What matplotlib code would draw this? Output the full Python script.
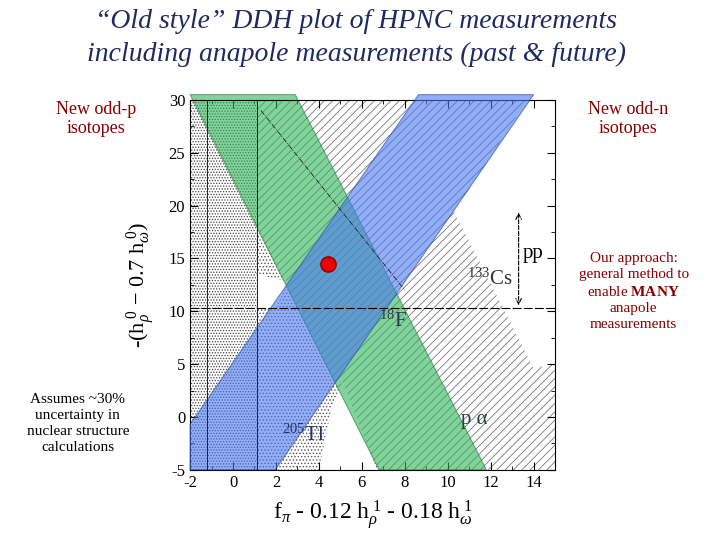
import matplotlib
matplotlib.use("Agg")
import matplotlib.pyplot as plt
from matplotlib.patches import Polygon
from matplotlib.ticker import MultipleLocator

plt.rcParams['font.family'] = ['Liberation Serif', 'DejaVu Serif']
plt.rcParams['mathtext.fontset'] = 'custom'
plt.rcParams['mathtext.rm'] = 'Liberation Serif'
plt.rcParams['mathtext.it'] = 'Liberation Serif:italic'
plt.rcParams['mathtext.bf'] = 'Liberation Serif:bold'
plt.rcParams['hatch.linewidth'] = 0.6

green_band = [(-2.0, 30.5), (2.9, 30.5), (11.8, -5.0), (6.8, -5.0)]
blue_band = [(-2.0, -5.0), (1.97, -5.0), (14.0, 30.5), (8.64, 30.5), (-2.0, -0.7)]
dense_left = [(-2.0, -5.0), (1.1, -5.0), (1.1, 30.0), (-2.0, 30.0)]
dense_diag = [(1.1, 18.0), (6.8, -5.0), (1.1, -5.0)]
white_upper_right = [(10.3, 19.4), (13.7, 30.0), (15.0, 30.0), (15.0, 5.0), (14.0, 4.6)]
white_bottom = [(4.0, -5.0), (6.7, -5.0), (5.1, 3.4), (4.6, 1.0)]
white_wedge = [(1.1, 10.3), (1.1, 13.5), (2.6, 12.8), (2.0, 10.3)]
red_point = (4.4, 14.5)
xticks = [-2, 0, 2, 4, 6, 8, 10, 12, 14]
yticks = [-5, 0, 5, 10, 15, 20, 25, 30]

fig = plt.figure(figsize=(7.2, 5.4), dpi=100)
ax = fig.add_axes([0.264, 0.130, 0.507, 0.685])
ax.set_xlim(-2, 15)
ax.set_ylim(-5, 30)

ax.add_patch(Polygon([(-2, -5), (15, -5), (15, 30), (-2, 30)], facecolor='white',
                     edgecolor='#777777', hatch='////', lw=0, zorder=0))
ax.add_patch(Polygon(dense_left, facecolor='white', edgecolor='#444444', hatch='......', lw=0, zorder=0.6))
ax.add_patch(Polygon(dense_diag, facecolor='white', edgecolor='#555555', hatch='.....', lw=0, zorder=0.6))
for poly in (white_upper_right, white_bottom, white_wedge):
    ax.add_patch(Polygon(poly, facecolor='white', edgecolor='none', zorder=0.8))

ax.add_patch(Polygon(green_band, closed=True, facecolor='#2fb45a', alpha=0.6,
                     edgecolor='#2a7a40', lw=0.8, zorder=2, clip_on=False))
ax.add_patch(Polygon(blue_band, closed=True, facecolor='#4a78f0', alpha=0.6,
                     edgecolor='#2a4aa0', lw=0.8, zorder=3, clip_on=False))

ax.axhline(10.3, color='black', lw=0.8, ls=(0, (8, 2)), zorder=4)
ax.axvline(-1.2, color='#222222', lw=0.7, zorder=4)
ax.axvline(1.1, color='#222222', lw=0.7, zorder=4)
ax.plot([1.3, 8.0], [29.0, 12.0], color='#222222', lw=0.6, ls='-.', zorder=4)
ax.annotate('', xy=(13.3, 10.3), xytext=(13.3, 19.6),
            arrowprops=dict(arrowstyle='<->', color='black', lw=0.8, ls='--'), zorder=5)

ax.text(13.5, 15.0, 'pp', fontsize=15, zorder=6)
ax.text(10.9, 12.5, '$^{133}$Cs', fontsize=15, color='#333333', zorder=6)
ax.text(6.8, 8.5, '$^{18}$F', fontsize=15, color='#333355', zorder=6)
ax.text(10.6, -0.7, 'p α', fontsize=15, color='#224433', zorder=6)
ax.text(2.3, -2.3, '$^{205}$Tl', fontsize=15, color='#223366', zorder=6)

ax.plot(*red_point, 'o', color='#ee0000', mec='#880000', ms=11, zorder=7)

ax.set_xticks(xticks)
ax.set_yticks(yticks)
ax.set_xticklabels([str(v) for v in xticks])
ax.set_yticklabels([str(v) for v in yticks])
ax.xaxis.set_minor_locator(MultipleLocator(1))
ax.yaxis.set_minor_locator(MultipleLocator(2.5))
ax.tick_params(direction='in', top=True, right=True, labelsize=12, length=6)
ax.tick_params(which='minor', direction='in', top=True, right=True, length=3)
for s in ax.spines.values():
    s.set_linewidth(0.8)

ax.set_xlabel(r'f$_\pi$ - 0.12 h$_\rho^{\;1}$ - 0.18 h$_\omega^{\;1}$', fontsize=17, labelpad=6)
ax.set_ylabel(r'-(h$_\rho^{\;0}$ $-$ 0.7 h$_\omega^{\;0}$)', fontsize=16, labelpad=8)

fig.text(0.495, 0.96, '“Old style” DDH plot of HPNC measurements', ha='center', va='center',
         fontsize=20, style='italic', color='#1f2a60')
fig.text(0.495, 0.90, 'including anapole measurements (past & future)', ha='center', va='center',
         fontsize=20, style='italic', color='#1f2a60')
fig.text(0.133, 0.78, 'New odd-p\nisotopes', ha='center', va='center', fontsize=13, color='#880000')
fig.text(0.872, 0.78, 'New odd-n\nisotopes', ha='center', va='center', fontsize=13, color='#880000')
fig.text(0.108, 0.215, 'Assumes ~30%\nuncertainty in\nnuclear structure\ncalculations',
         ha='center', va='center', fontsize=11, linespacing=1.3)
fig.text(0.880, 0.46, 'Our approach:\ngeneral method to\nenable $\\bf{MANY}$\nanapole\nmeasurements',
         ha='center', va='center', fontsize=11, color='#880000', linespacing=1.3)

fig.savefig('out.png', dpi=100)
